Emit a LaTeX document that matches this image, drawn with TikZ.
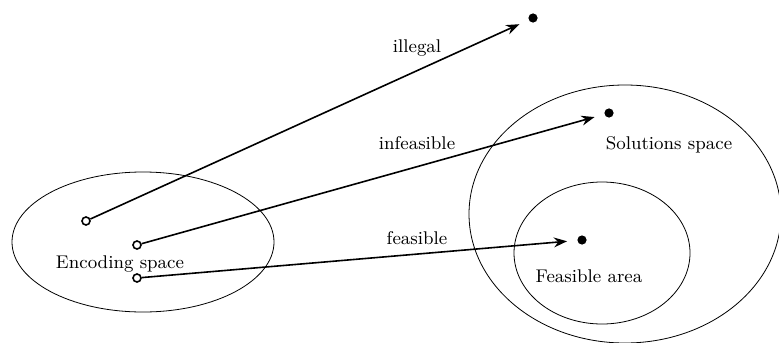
\documentclass[tikz,border=0pt]{standalone}
\usetikzlibrary{arrows.meta,positioning}
\tikzset {
  >=Stealth,
  every node/.style={font=\fontsize{9.2}{11}\selectfont},
  codept/.style={circle,draw,fill=white,thick,inner sep=0pt,minimum size=4pt},
  solpt/.style={circle,fill=black,inner sep=0pt,minimum size=4.6pt},
  maparrow/.style={->,thick,shorten >=5pt},
}

\begin{document}
\begin{tikzpicture}[x=0.5pt,y=-0.5pt]
  \useasboundingbox (0,0) rectangle (779,342);

  % spaces
  \draw (143,242) ellipse[x radius=131,y radius=70];
  \draw (625,214) ellipse[x radius=156,y radius=129];
  \draw (602,253) ellipse[x radius=88,y radius=71];

  \node at (120,264) {Encoding space};
  \node at (669,145) {Solutions space};
  \node at (589,276) {Feasible area};

  % points
  \node[solpt] (ill) at (533,18) {};
  \node[solpt] (inf) at (609,113) {};
  \node[solpt] (fea) at (582,240) {};

  \node[codept] (c1) at (86,221) {};
  \node[codept] (c2) at (137,245) {};
  \node[codept] (c3) at (137,278) {};

  \draw[maparrow] (c1) -- (ill);
  \draw[maparrow] (c2) -- (inf);
  \draw[maparrow] (c3) -- (fea);

  \node at (417,48) {illegal};
  \node at (417,143) {infeasible};
  \node at (417,238) {feasible};
\end{tikzpicture}
\end{document}
